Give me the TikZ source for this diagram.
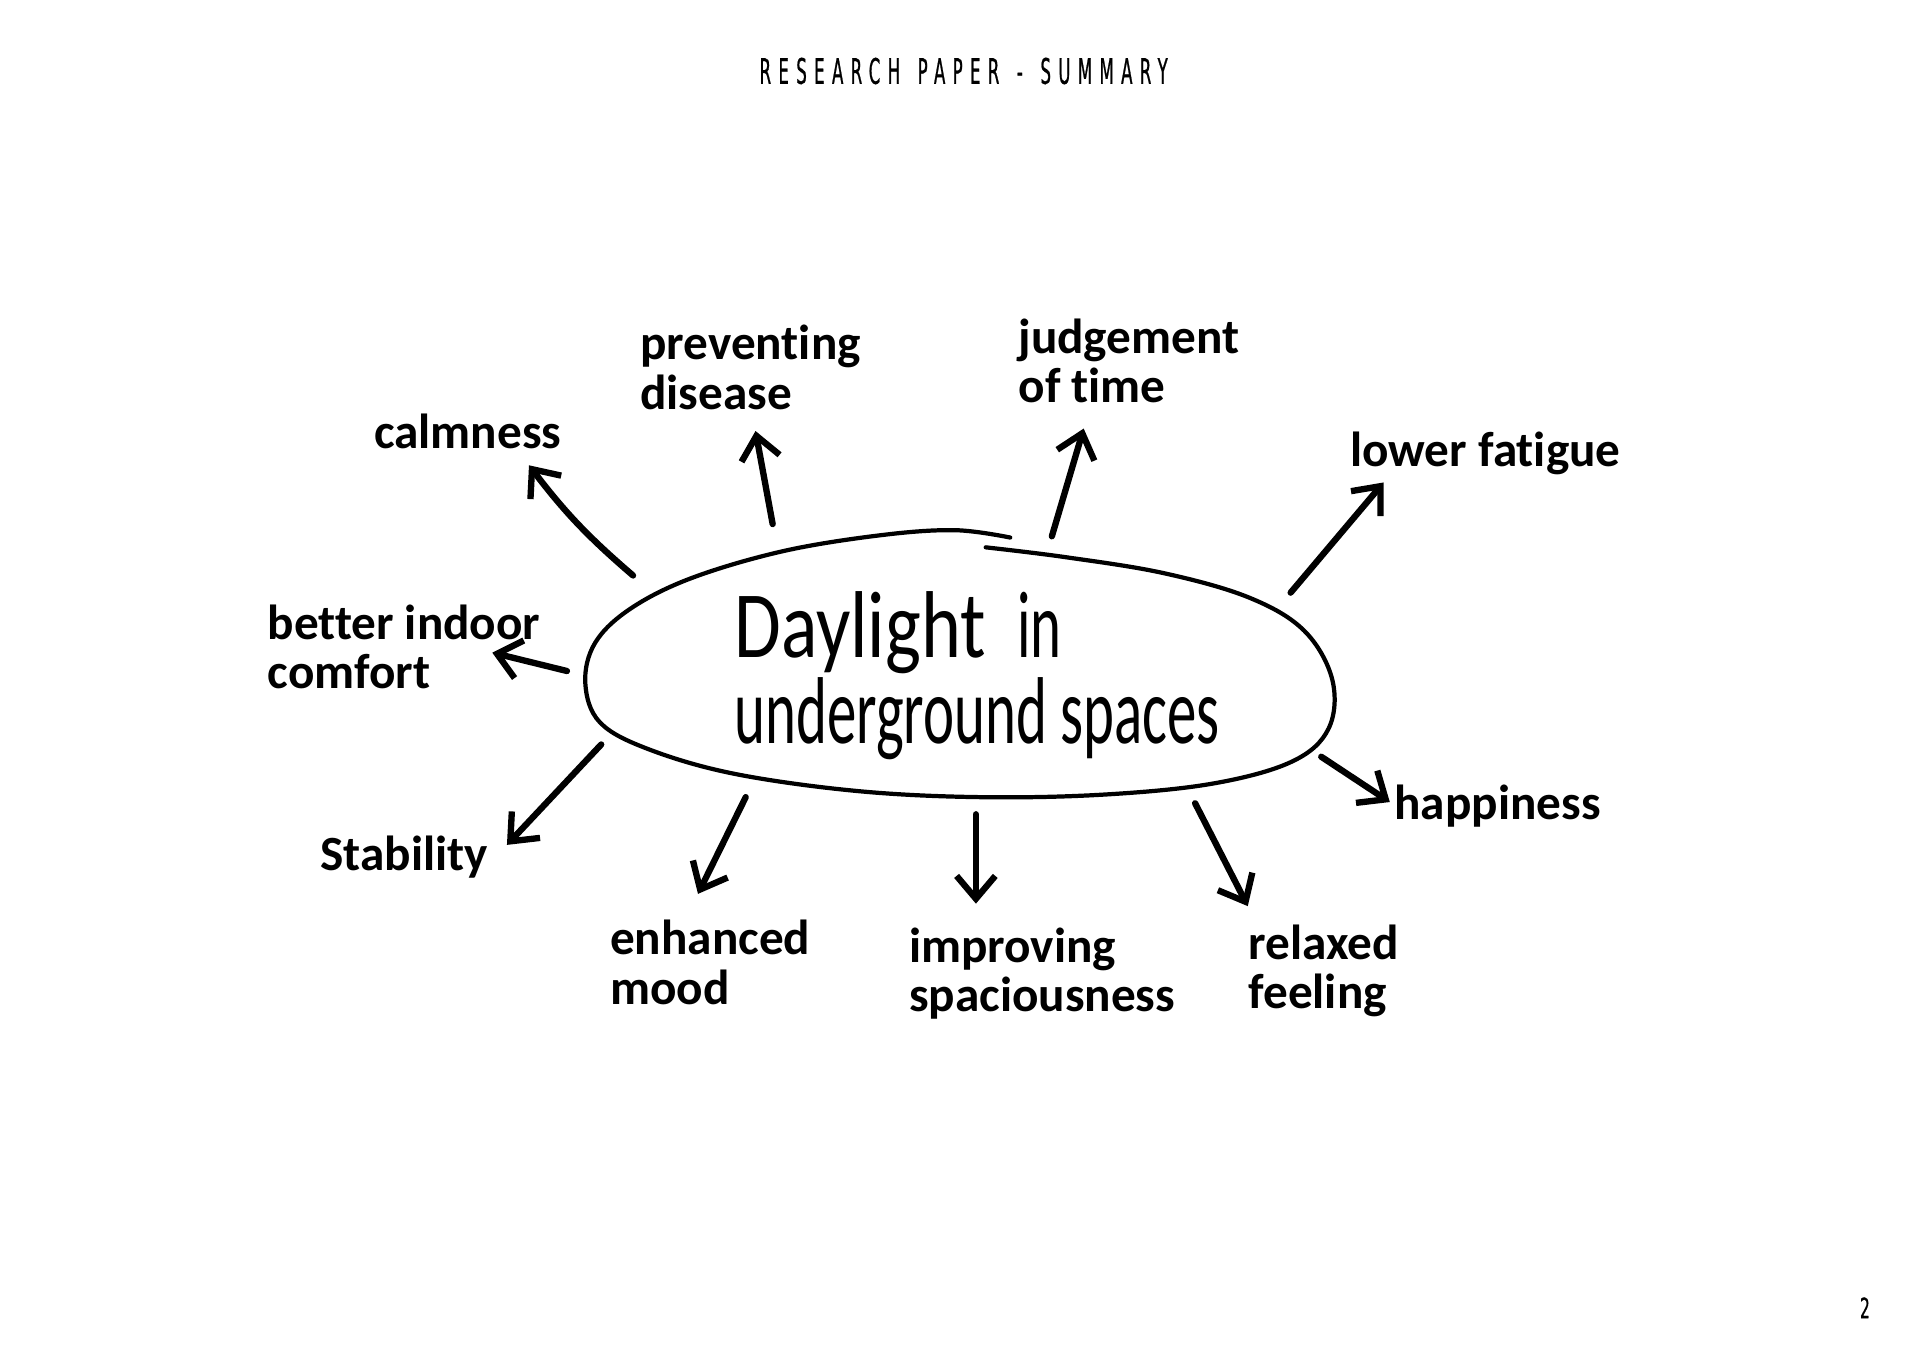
\documentclass[tikz,border=0pt]{standalone}
\usepackage{fontspec}
\setmainfont{Carlito}[Ligatures=NoCommon]
\newfontfamily\hwfont{Carlito}[Ligatures=NoCommon]
\newfontfamily\hwcfont{Carlito}[FakeStretch=0.62,Ligatures=NoCommon]
\newfontfamily\hwdfont{Carlito}[FakeStretch=0.8,Ligatures=NoCommon]
\newfontfamily\titlefont{DejaVu Sans}[FakeStretch=0.47,LetterSpace=21,FakeBold=0.6]
\newfontfamily\numfont{DejaVu Sans}[FakeStretch=0.55,FakeBold=0.6]
\usetikzlibrary{arrows.meta}
\newcommand{\tgap}{\hspace{0.5em}}
\begin{document}
\begin{tikzpicture}[x=0.012245cm,y=-0.012245cm,
  lbl/.style={font=\hwfont\bfseries\fontsize{14}{14}\selectfont, align=left, inner sep=0pt},
  arr/.style={line width=1.8pt, line cap=round, -{Straight Barb[length=6.5pt,width=11pt]}},
  ring/.style={line width=1.2pt, line cap=round}]
\useasboundingbox[fill=white] (0,0) rectangle (1568,1108);

% header and page number
\node (title) [font=\titlefont\fontsize{10}{12}\selectfont] at (787,58) {RESEARCH\tgap PAPER\tgap -\tgap SUMMARY};
\node (page) [font=\numfont\fontsize{8}{9}\selectfont] at (1523,1068) {2};

% central idea
\node (center) [font=\hwcfont\fontsize{27}{20}\selectfont, align=left, inner sep=0pt] at (798,552) {{\hwdfont Daylight}\hspace{9pt}in\\underground spaces};
\draw[ring] plot[smooth, tension=0.6] coordinates {(805,447) (870,455) (950,468) (1020,488) (1065,515) (1088,555) (1085,595) (1055,622) (990,640) (900,649) (800,651) (700,646) (600,632) (530,612) (490,590) (478,558) (486,525) (515,497) (565,472) (640,450) (720,437) (780,433) (825,439)};

% labels
\node (calm) [lbl] at (382,352) {calmness};
\node (prev) [lbl] at (613,300) {preventing\\disease};
\node (judg) [lbl] at (922,295) {judgement\\of time};
\node (fat)  [lbl] at (1213,370) {lower fatigue};
\node (comf) [lbl] at (330,528) {better indoor\\comfort};
\node (stab) [lbl] at (330,700) {Stability};
\node (mood) [lbl] at (580,786) {enhanced\\mood};
\node (spac) [lbl] at (851,795) {improving\\spaciousness};
\node (relx) [lbl] at (1081,793) {relaxed\\feeling};
\node (happ) [lbl] at (1223,658) {happiness};

% arrow ends
\coordinate (t1) at (517,470);  \coordinate (h1) at (432,380);
\coordinate (t2) at (631,428);  \coordinate (h2) at (617,352);
\coordinate (t3) at (859,438);  \coordinate (h3) at (885,350);
\coordinate (t4) at (1054,484); \coordinate (h4) at (1130,394);
\coordinate (t5) at (463,548);  \coordinate (h5) at (402,533);
\coordinate (t6) at (491,608);  \coordinate (h6) at (414,690);
\coordinate (t7) at (609,651);  \coordinate (h7) at (570,730);
\coordinate (t8) at (797,665);  \coordinate (h8) at (797,738);
\coordinate (t9) at (976,656);  \coordinate (h9) at (1019,740);
\coordinate (t10) at (1079,618); \coordinate (h10) at (1135,655);

\draw[arr] (t1) to[bend left=6] (h1);
\draw[arr] (t2) -- (h2);
\draw[arr] (t3) -- (h3);
\draw[arr] (t4) -- (h4);
\draw[arr] (t5) -- (h5);
\draw[arr] (t6) -- (h6);
\draw[arr] (t7) -- (h7);
\draw[arr] (t8) -- (h8);
\draw[arr] (t9) -- (h9);
\draw[arr] (t10) -- (h10);
\end{tikzpicture}
\end{document}
